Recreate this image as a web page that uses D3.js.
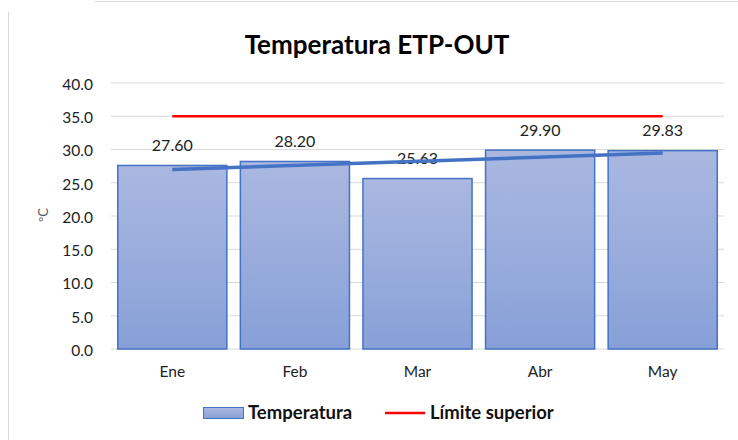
<!DOCTYPE html>
<html>
<head>
<meta charset="utf-8">
<script src="https://cdn.jsdelivr.net/npm/d3@7"></script>
<style>
  body { margin: 0; background: #fff; }
  text { font-family: Lato, "Open Sans", sans-serif; }
</style>
</head>
<body>
<script>
let months = ['Ene', 'Feb', 'Mar', 'Abr', 'May'];
let temps = [27.60, 28.20, 25.63, 29.90, 29.83];
let limit = 35;
let yTicks = [0, 5, 10, 15, 20, 25, 30, 35, 40];

let width = 738;
let height = 440;
let margin = {top: 83, right: 14, bottom: 91, left: 111};

let svg = d3.select('body')
    .append('svg')
    .attr('width', width)
    .attr('height', height);

// frame edges of the chart area
svg.append('line')
    .attr('x1', 95).attr('x2', width).attr('y1', 1.5).attr('y2', 1.5)
    .attr('stroke', '#d9d9d9');
svg.append('line')
    .attr('x1', 8.5).attr('x2', 8.5).attr('y1', 12).attr('y2', height)
    .attr('stroke', '#d9d9d9');

let defs = svg.append('defs');
let grad = defs.append('linearGradient')
    .attr('id', 'barGrad')
    .attr('x1', 0).attr('y1', 0).attr('x2', 0).attr('y2', 1);
grad.append('stop').attr('offset', '0%').attr('stop-color', '#aab8e0');
grad.append('stop').attr('offset', '100%').attr('stop-color', '#88a0d8');

let x = d3.scaleBand()
    .domain(months)
    .range([margin.left, width - margin.right])
    .paddingInner(0.11)
    .paddingOuter(0.055);

let y = d3.scaleLinear()
    .domain([0, 40])
    .range([height - margin.bottom, margin.top]);

// gridlines
svg.append('g')
    .selectAll('line')
    .data(yTicks)
    .enter()
        .append('line')
        .attr('x1', margin.left)
        .attr('x2', width - margin.right)
        .attr('y1', d => y(d))
        .attr('y2', d => y(d))
        .attr('stroke', '#d9d9d9')
        .attr('stroke-width', 1);

// y axis labels
let yAxis = d3.axisLeft(y)
    .tickValues(yTicks)
    .tickFormat(d3.format('.1f'))
    .tickSize(0)
    .tickPadding(18);

svg.append('g')
    .attr('transform', `translate(${margin.left}, 1.5)`)
    .call(yAxis)
    .call(g => g.select('.domain').remove())
    .selectAll('text')
    .attr('font-family', 'Lato, sans-serif')
    .attr('font-size', 15.5)
    .attr('fill', '#222');

// bars
svg.append('g')
    .selectAll('rect')
    .data(temps)
    .enter()
        .append('rect')
        .attr('x', (d, i) => x(months[i]))
        .attr('y', d => y(d))
        .attr('width', x.bandwidth())
        .attr('height', d => y(0) - y(d))
        .attr('fill', 'url(#barGrad)')
        .attr('stroke', '#4472c4')
        .attr('stroke-width', 1.5);

// limit line
let cx = m => x(m) + x.bandwidth() / 2;
svg.append('line')
    .attr('x1', cx(months[0]))
    .attr('x2', cx(months[months.length - 1]))
    .attr('y1', y(limit))
    .attr('y2', y(limit))
    .attr('stroke', '#ff0000')
    .attr('stroke-width', 2.5);

// value labels
svg.append('g')
    .selectAll('text')
    .data(temps)
    .enter()
        .append('text')
        .attr('x', (d, i) => cx(months[i]))
        .attr('y', d => y(d) - 14.5)
        .attr('text-anchor', 'middle')
        .attr('font-size', 16)
        .attr('fill', '#222')
        .text(d => d.toFixed(2));

// linear trendline
let n = temps.length;
let mx = (n - 1) / 2;
let my = d3.mean(temps);
let slope = d3.sum(temps, (d, i) => (i - mx) * (d - my)) / d3.sum(temps, (d, i) => (i - mx) * (i - mx));
let trend = [0, n - 1].map(i => ({m: months[i], v: my + slope * (i - mx)}));

svg.append('path')
    .datum(trend)
    .attr('d', d3.line().x(d => cx(d.m)).y(d => y(d.v)))
    .attr('stroke', '#4472c4')
    .attr('stroke-width', 3.5)
    .attr('fill', 'none');

// x axis labels
let xAxis = d3.axisBottom(x).tickSize(0).tickPadding(17);
svg.append('g')
    .attr('transform', `translate(0, ${y(0)})`)
    .call(xAxis)
    .call(g => g.select('.domain').remove())
    .selectAll('text')
    .attr('font-family', 'Lato, sans-serif')
    .attr('font-size', 15.5)
    .attr('fill', '#222');

// title
svg.append('text')
    .attr('x', 377)
    .attr('y', 53.5)
    .attr('text-anchor', 'middle')
    .attr('font-size', 26)
    .attr('font-weight', 'bold')
    .attr('fill', '#000')
    .text('Temperatura ETP-OUT');

// y axis title
svg.append('text')
    .attr('transform', 'translate(43, 215) rotate(-90)')
    .attr('text-anchor', 'middle')
    .attr('dy', '0.35em')
    .attr('font-size', 13)
    .attr('fill', '#595959')
    .text('ºC');

// legend
let legend = svg.append('g');
legend.append('rect')
    .attr('x', 203.5).attr('y', 407.5)
    .attr('width', 40).attr('height', 11)
    .attr('fill', 'url(#barGrad)')
    .attr('stroke', '#4472c4');
legend.append('text')
    .attr('x', 248).attr('y', 418.5)
    .attr('font-size', 18.5).attr('font-weight', 'bold').attr('fill', '#111')
    .text('Temperatura');
legend.append('line')
    .attr('x1', 385).attr('x2', 425).attr('y1', 413).attr('y2', 413)
    .attr('stroke', '#ff0000').attr('stroke-width', 2.5);
legend.append('text')
    .attr('x', 430).attr('y', 418.5)
    .attr('font-size', 18.5).attr('font-weight', 'bold').attr('fill', '#111')
    .text('Límite superior');
</script>
</body>
</html>
